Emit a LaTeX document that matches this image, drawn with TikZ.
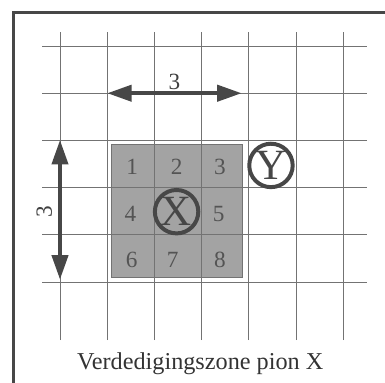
\documentclass[tikz,border=0pt]{standalone}
\usepackage{fontspec}
\setmainfont{Liberation Serif}
\usetikzlibrary{arrows.meta}
\definecolor{pengray}{gray}{0.28}
\definecolor{numgray}{gray}{0.33}
\definecolor{gridgray}{gray}{0.45}
\definecolor{zonegray}{gray}{0.64}
\begin{document}
\begin{tikzpicture}[
gridline/.style={
        draw=gridgray,
        line width=0.4pt,
    },
   cellnum/.style = {
   text=numgray,
   inner sep=0pt,
   font = \fontsize{14}{14}\selectfont,
   },
   pawn/.style = {
   draw=pengray,
   circle,
   line width = 2.4pt,
   minimum size=0.92cm,
   inner sep=0pt,
   text=pengray,
    font = \fontsize{26}{26}\selectfont,
   },
   dimarrow/.style = {
   draw=pengray,
   line width = 2.4pt,
   {Triangle[length=5.2mm,width=3.4mm]}-{Triangle[length=5.2mm,width=3.4mm]},
   },
 ]
\useasboundingbox (-1.271,-2.119) rectangle (6.886,5.975);

% frame (only left and top edge inside the page)
\draw[pengray, line width = 1.8pt] (-0.975,-2.2) |- (7,5.72);

% grid
\draw[gridline] (0,-1.23) -- (0,5.3);
\draw[gridline] (1,-1.23) -- (1,5.3);
\draw[gridline] (2,-1.23) -- (2,5.3);
\draw[gridline] (3,-1.23) -- (3,5.3);
\draw[gridline] (4,-1.23) -- (4,5.3);
\draw[gridline] (5,-1.23) -- (5,5.3);
\draw[gridline] (6,-1.23) -- (6,5.3);
\draw[gridline] (-0.38,0) -- (6.5,0);
\draw[gridline] (-0.38,1) -- (6.5,1);
\draw[gridline] (-0.38,2) -- (6.5,2);
\draw[gridline] (-0.38,3) -- (6.5,3);
\draw[gridline] (-0.38,4) -- (6.5,4);
\draw[gridline] (-0.38,5) -- (6.5,5);

% defence zone
\fill[zonegray, draw=gridgray, line width=0.4pt] (1.08,0.09) rectangle (3.86,2.91);
\draw[gridline] (2,0.09) -- (2,2.91);
\draw[gridline] (3,0.09) -- (3,2.91);
\draw[gridline] (1.08,1) -- (3.86,1);
\draw[gridline] (1.08,2) -- (3.86,2);

\node [cellnum] (cellone) at (1.53,2.44) {1};
\node [cellnum] (celltwo) at (2.47,2.44) {2};
\node [cellnum] (cellthree) at (3.39,2.44) {3};
\node [cellnum] (cellfour) at (1.49,1.44) {4};
\node [cellnum] (cellfive) at (3.36,1.44) {5};
\node [cellnum] (cellsix) at (1.52,0.47) {6};
\node [cellnum] (cellseven) at (2.39,0.47) {7};
\node [cellnum] (celleight) at (3.39,0.47) {8};

\node[pawn] (pawnx) at (2.47,1.49) {X};
\node[pawn] (pawny) at (4.47,2.47) {Y};

% distances
\coordinate (hleft) at (1,4);
\coordinate (hright) at (3.85,4);
\draw[dimarrow] (hleft) -- (hright) node[midway, above=1pt, cellnum, text=black!75] (hdist) {3};
\coordinate (vtop) at (0,3.01);
\coordinate (vbottom) at (0,0.05);
\draw[dimarrow] (vtop) -- (vbottom);
\node[cellnum, text=black!75, rotate=90] (vdist) at (-0.33,1.5) {3};

\node[align = center, text=black!80] (caption) at (2.97,-1.74) {\fontsize{14.6}{15}\selectfont Verdedigingszone pion X};
\end{tikzpicture}
\end{document}
